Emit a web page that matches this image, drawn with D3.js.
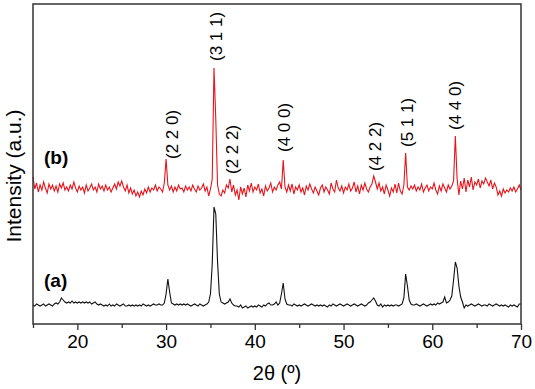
<!DOCTYPE html>
<html lang="en">

<head>
    <meta charset="UTF-8">
    <script src="https://d3js.org/d3.v7.min.js"></script>
    <title>XRD</title>
    <style>
        body { margin: 0; background: #fff; }
        text { font-family: "Liberation Sans", Arial, sans-serif; fill: #000; }
    </style>
</head>

<body>
    <svg id="mainsvg" width="535" height="389"></svg>

    <script>
        // scan grid: 15 -> 70 deg, step 0.2
        const scanStart = 15
        const scanStep = 0.2

        // sample (a), black
        const intensityA = [
            19, 18, 20, 19, 18,
            19, 20, 18, 19, 20,
            19, 18, 20, 21, 20,
            22, 26, 24, 22, 21,
            22, 21, 23, 21, 22,
            21, 22, 21, 22, 21,
            22, 21, 22, 20, 21,
            22, 20, 19, 20, 19,
            18, 19, 18, 20, 18,
            19, 18, 20, 19, 18,
            19, 20, 18, 18, 19,
            18, 19, 18, 19, 18,
            19, 18, 20, 19, 18,
            19, 18, 19, 20, 19,
            19, 20, 19, 19, 21,
            30, 45, 32, 21, 20,
            19, 20, 19, 20, 19,
            20, 19, 20, 19, 18,
            19, 20, 19, 18, 20,
            19, 18, 19, 20, 22,
            30, 60, 117, 110, 62,
            30, 22, 21, 20, 21,
            22, 25, 21, 19, 18,
            18, 17, 19, 16, 17,
            18, 16, 17, 18, 17,
            18, 17, 19, 18, 17,
            19, 18, 20, 21, 19,
            19, 20, 22, 19, 21,
            30, 41, 25, 20, 19,
            19, 18, 20, 19, 18,
            19, 18, 19, 20, 19,
            18, 19, 20, 19, 18,
            19, 18, 19, 18, 19,
            18, 17, 19, 18, 20,
            19, 18, 19, 20, 19,
            18, 19, 20, 19, 18,
            19, 20, 19, 18, 19,
            20, 19, 18, 19, 21,
            22, 24, 26, 23, 19,
            18, 20, 17, 19, 18,
            19, 18, 19, 18, 19,
            19, 18, 19, 20, 26,
            50, 38, 24, 20, 19,
            19, 20, 19, 18, 19,
            20, 19, 18, 19, 20,
            19, 20, 19, 21, 20,
            21, 22, 27, 21, 22,
            24, 28, 44, 62, 56,
            38, 27, 22, 16, 19,
            18, 19, 20, 19, 18,
            19, 20, 19, 18, 19,
            19, 18, 20, 19, 18,
            19, 20, 19, 18, 19,
            18, 19, 18, 17, 19,
            18, 19, 18, 17, 20,
            20
        ]

        // sample (b), red (plotted with an offset)
        const intensityB = [
            32, 20, 26, 17, 24,
            19, 27, 21, 16, 25,
            20, 24, 18, 23, 17,
            25, 21, 26, 19, 22,
            18, 24, 20, 27, 21,
            17, 23, 19, 22, 16,
            24, 18, 21, 25, 19,
            22, 17, 25, 20, 23,
            18, 24, 19, 22, 17,
            21, 25, 20, 27, 23,
            28, 22, 18, 24, 16,
            21, 15, 19, 13, 17,
            12, 18, 14, 20, 16,
            22, 17, 21, 19, 24,
            18, 22, 20, 17, 26,
            50, 24, 19, 23, 17,
            22, 18, 24, 20, 21,
            17, 23, 19, 22, 18,
            24, 20, 17, 23, 19,
            21, 25, 18, 22, 13,
            20, 30, 141, 90, 24,
            15, 13, 19, 16, 24,
            21, 30, 17, 24, 14,
            19, 9, 22, 15, 21,
            12, 24, 18, 26, 17,
            22, 19, 25, 16, 20,
            13, 23, 18, 21, 26,
            17, 22, 19, 24, 27,
            20, 49, 22, 17, 24,
            18, 25, 15, 22, 19,
            24, 17, 21, 14, 23,
            19, 25, 20, 16, 22,
            18, 14, 21, 24, 17,
            22, 19, 15, 26, 20,
            17, 29, 21, 18, 23,
            16, 22, 19, 25, 18,
            21, 27, 17, 23, 15,
            24, 19, 26, 20, 17,
            22, 25, 33, 27, 20,
            26, 18, 22, 15, 24,
            19, 13, 21, 17, 25,
            16, 26, 18, 15, 24,
            56, 22, 19, 23, 20,
            24, 18, 22, 19, 25,
            17, 21, 24, 18, 22,
            20, 26, 19, 15, 23,
            18, 25, 21, 17, 24,
            20, 23, 28, 73, 30,
            14, 28, 20, 31, 17,
            29, 22, 32, 19, 27,
            24, 30, 21, 28, 25,
            31, 27, 23, 29, 20,
            26, 22, 14, 18, 13,
            20, 16, 19, 17, 21,
            18, 22, 17, 20, 24,
            19
        ]
        const offsetB = 115

        // peak labels (hkl), label centre 2theta, label start level
        const peakLabels = ['(2 2 0)', '(3 1 1)', '(2 2 2)', '(4 0 0)', '(4 2 2)', '(5 1 1)', '(4 4 0)']
        const labelTheta = [30.67, 35.68, 37.43, 43.29, 53.54, 57.15, 62.56]
        const labelLevel = [165, 263, 150, 172, 153, 177, 194]

        const majorTicks = [20, 30, 40, 50, 60, 70]
        const minorTicks = [15, 25, 35, 45, 55, 65]

        const svg = d3.select('#mainsvg')
        const margin = { top: 4, left: 33, right: 14, bottom: 65 }
        const width = +svg.attr('width')
        const height = +svg.attr('height')
        const innerWidth = width - margin.left - margin.right
        const innerHeight = height - margin.top - margin.bottom

        const xScale = d3.scaleLinear().domain([15, 70]).range([0, innerWidth])
        const yScale = d3.scaleLinear().domain([0, 320]).range([innerHeight, 0])

        const g = svg.append('g')
            .attr('transform', `translate(${margin.left}, ${margin.top})`)

        const line = d3.line()
            .x((d, i) => xScale(scanStart + i * scanStep))
            .y(d => yScale(d))

        g.append('path')
            .datum(intensityA)
            .attr('d', line)
            .attr('fill', 'none')
            .attr('stroke', '#111')
            .attr('stroke-width', 1.1)

        g.append('path')
            .datum(intensityB.map(v => v + offsetB))
            .attr('d', line)
            .attr('fill', 'none')
            .attr('stroke', '#e8141c')
            .attr('stroke-width', 1.1)

        // frame
        g.append('rect')
            .attr('width', innerWidth)
            .attr('height', innerHeight)
            .attr('fill', 'none')
            .attr('stroke', '#333')
            .attr('stroke-width', 1.5)

        // x axis
        const xAxis = g.append('g')
            .attr('transform', `translate(0, ${innerHeight})`)
            .call(d3.axisBottom(xScale).tickValues(majorTicks).tickSize(6).tickPadding(5))
        xAxis.select('.domain').remove()
        xAxis.selectAll('line').attr('stroke', '#333').attr('stroke-width', 1.3)
        xAxis.selectAll('text').attr('font-size', 19)

        g.append('g')
            .attr('transform', `translate(0, ${innerHeight})`)
            .call(d3.axisBottom(xScale).tickValues(minorTicks).tickSize(4).tickFormat(''))
            .call(a => a.select('.domain').remove())
            .selectAll('line').attr('stroke', '#333').attr('stroke-width', 1.3)

        // axis titles
        g.append('text')
            .attr('x', innerWidth / 2)
            .attr('y', innerHeight + 56)
            .attr('text-anchor', 'middle')
            .attr('font-size', 20)
            .text('2θ (º)')

        svg.append('text')
            .attr('transform', 'translate(21, 176) rotate(-90)')
            .attr('text-anchor', 'middle')
            .attr('font-size', 21)
            .text('Intensity (a.u.)')

        // sample labels
        g.append('text')
            .attr('x', 11).attr('y', 160)
            .attr('font-size', 19).attr('font-weight', 'bold')
            .text('(b)')
        g.append('text')
            .attr('x', 11).attr('y', 283)
            .attr('font-size', 19).attr('font-weight', 'bold')
            .text('(a)')

        // hkl labels
        g.selectAll('.hkl')
            .data(peakLabels)
            .enter()
            .append('text')
            .attr('class', 'hkl')
            .attr('transform', (d, i) => `translate(${xScale(labelTheta[i])}, ${yScale(labelLevel[i])}) rotate(-90)`)
            .attr('dy', '0.35em')
            .attr('font-size', 17)
            .text(d => d)
    </script>
</body>

</html>
